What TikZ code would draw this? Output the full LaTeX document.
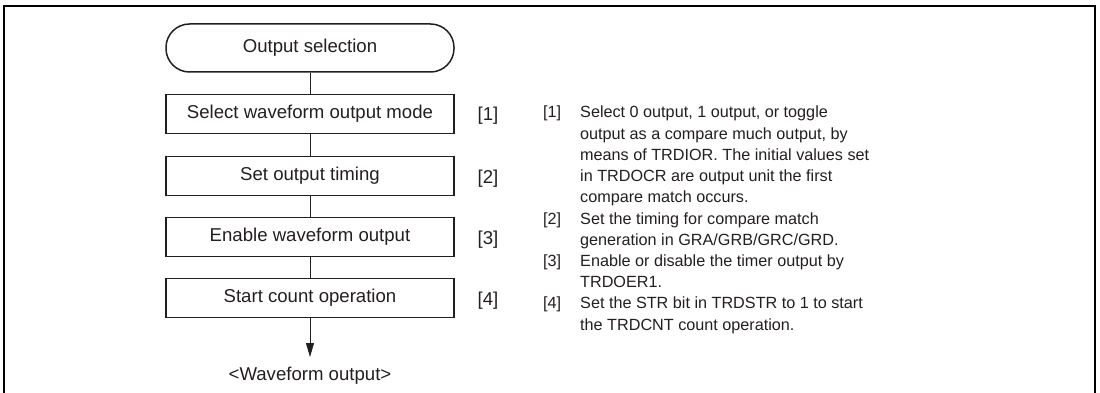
\documentclass[tikz,border=0pt]{standalone}
\usepackage{fontspec}
\setmainfont{Liberation Sans}
\usetikzlibrary{arrows.meta}
\definecolor{linec}{HTML}{231F20}
\newcommand\fsz{\fontsize{16.2}{21.2}\selectfont}
\newcommand\fsb{\fontsize{18.6}{22}\selectfont}
\begin{document}
\begin{tikzpicture}[x=1pt,y=-1pt,
  fbox/.style={draw=linec, line width=1.5pt, minimum width=288pt, minimum height=39pt, inner sep=0pt, font=\fsb, text=linec},
  term/.style={fbox, minimum height=48pt, rounded corners=23.5pt},
  conn/.style={draw=linec, line width=0.8pt},
  lab/.style={font=\fsb, text=linec, inner sep=0pt},
  note/.style={font=\fsz, text=linec, inner sep=0pt, anchor=base west},
  frame/.style={draw=black, line width=2pt}]
\useasboundingbox (0,0) rectangle (1100,393);
\draw[frame] (4,393) -- (4,6) -- (1095,6) -- (1095,393);
\node[term] (t) at (310,48) {Output selection};
\node[fbox] (b1) at (310,114) {Select waveform output mode};
\node[fbox] (b2) at (310,176) {Set output timing};
\node[fbox] (b3) at (310,237) {Enable waveform output};
\node[fbox] (b4) at (310,298) {Start count operation};
\node[lab] (l1) at (488,116) {[1]};
\node[lab] (l2) at (488,179) {[2]};
\node[lab] (l3) at (488,240) {[3]};
\node[lab] (l4) at (488,301) {[4]};
\coordinate (tip) at (310,357);
\node[lab] (wo) at (310,376) {<Waveform output>};
\draw[conn] (t) -- (b1);
\draw[conn] (b1) -- (b2);
\draw[conn] (b2) -- (b3);
\draw[conn] (b3) -- (b4);
\draw[conn,-{Triangle[length=14pt,width=8pt]}] (b4) -- (tip);
% notes
\node[note] (n1) at (543,118) {[1]};
\node[note] (n2) at (543,224) {[2]};
\node[note] (n3) at (543,266.4) {[3]};
\node[note] (n4) at (543,308.8) {[4]};
\foreach \k/\txt in {0/{Select 0 output, 1 output, or toggle},
  1/{output as a compare much output, by},
  2/{means of TRDIOR. The initial values set},
  3/{in TRDOCR are output unit the first},
  4/{compare match occurs.},
  5/{Set the timing for compare match},
  6/{generation in GRA/GRB/GRC/GRD.},
  7/{Enable or disable the timer output by},
  8/{TRDOER1.},
  9/{Set the STR bit in TRDSTR to 1 to start},
  10/{the TRDCNT count operation.}}
  \node[note] (d\k) at (580,118+21.2*\k) {\txt};
\end{tikzpicture}
\end{document}
